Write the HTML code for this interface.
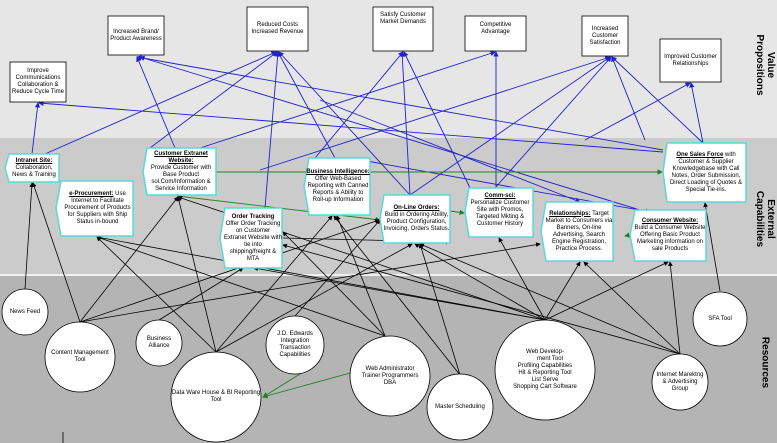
<!DOCTYPE html>
<html><head><meta charset="utf-8"><style>
body{margin:0;width:777px;height:443px;overflow:hidden;font-family:"Liberation Sans",sans-serif;position:relative;background:#b4b4b4}
.t{position:absolute;font-size:6px;line-height:7px;text-align:center;color:#000;display:flex;align-items:center;justify-content:center;flex-direction:column}
.b{font-weight:bold;text-decoration:underline}
.lab{position:absolute;font-weight:bold;font-size:10px;transform:rotate(90deg);transform-origin:center;text-align:center;line-height:11px;white-space:nowrap}
</style></head><body>
<svg width="777" height="443" style="position:absolute;left:0;top:0">
<defs>
<marker id="ab" markerWidth="6" markerHeight="6" refX="5" refY="3" orient="auto"><path d="M0,0L6,3L0,6z" fill="#2020d0"/></marker>
<marker id="ak" markerWidth="6" markerHeight="6" refX="5" refY="3" orient="auto"><path d="M0,0L6,3L0,6z" fill="#000"/></marker>
<marker id="ag" markerWidth="6" markerHeight="6" refX="5" refY="3" orient="auto"><path d="M0,0L6,3L0,6z" fill="#208020"/></marker>
</defs>
<rect x="0" y="0" width="777" height="138" fill="#e6e6e6"/>
<rect x="0" y="138" width="777" height="136" fill="#cbcbcb"/>
<rect x="0" y="274" width="777" height="2" fill="#f0f0f0"/>
<rect x="0" y="276" width="777" height="167" fill="#b4b4b4"/>
<g stroke="#2020d0" stroke-width="0.9" fill="none" marker-end="url(#ab)">
<line x1="32" y1="154" x2="38" y2="103"/>
<line x1="45" y1="154" x2="276" y2="52"/>
<line x1="175" y1="148" x2="137" y2="57"/>
<line x1="663" y1="150" x2="137" y2="57"/>
<line x1="640" y1="210" x2="140" y2="57"/>
<line x1="663" y1="152" x2="39" y2="103"/>
<line x1="150" y1="148" x2="277" y2="52"/>
<line x1="265" y1="208" x2="278" y2="52"/>
<line x1="335" y1="158" x2="278" y2="52"/>
<line x1="410" y1="195" x2="279" y2="52"/>
<line x1="315" y1="158" x2="403" y2="52"/>
<line x1="410" y1="195" x2="402" y2="52"/>
<line x1="470" y1="188" x2="404" y2="52"/>
<line x1="200" y1="148" x2="495" y2="52"/>
<line x1="496" y1="188" x2="496" y2="52"/>
<line x1="260" y1="170" x2="610" y2="57"/>
<line x1="410" y1="195" x2="610" y2="57"/>
<line x1="495" y1="188" x2="611" y2="57"/>
<line x1="645" y1="140" x2="612" y2="57"/>
<line x1="703" y1="143" x2="612" y2="57"/>
<line x1="585" y1="140" x2="690" y2="83"/>
<line x1="703" y1="143" x2="691" y2="83"/>
<line x1="350" y1="158" x2="650" y2="212"/>
<line x1="320" y1="100" x2="580" y2="202"/>
</g>
<g stroke="#208020" stroke-width="0.9" fill="none" marker-end="url(#ag)">
<line x1="216" y1="172" x2="662" y2="172"/>
<line x1="177" y1="196" x2="380" y2="220"/>
<line x1="450" y1="211" x2="464" y2="213"/>
<line x1="630" y1="235" x2="625" y2="236"/>
<line x1="350" y1="373" x2="263" y2="397"/>
<line x1="300" y1="374" x2="263" y2="397"/>
</g>
<g stroke="#000" stroke-width="0.8" fill="none" marker-end="url(#ak)">
<line x1="25" y1="289" x2="32" y2="183"/>
<line x1="80" y1="322" x2="33" y2="183"/>
<line x1="80" y1="322" x2="178" y2="197"/>
<line x1="80" y1="322" x2="379" y2="220"/>
<line x1="80" y1="322" x2="540" y2="244"/>
<line x1="159" y1="320" x2="243" y2="268"/>
<line x1="216" y1="352" x2="97" y2="237"/>
<line x1="216" y1="352" x2="178" y2="197"/>
<line x1="216" y1="352" x2="332" y2="216"/>
<line x1="216" y1="352" x2="412" y2="244"/>
<line x1="295" y1="316" x2="380" y2="220"/>
<line x1="385" y1="336" x2="283" y2="232"/>
<line x1="385" y1="336" x2="97" y2="237"/>
<line x1="385" y1="336" x2="337" y2="216"/>
<line x1="460" y1="375" x2="334" y2="216"/>
<line x1="460" y1="375" x2="420" y2="244"/>
<line x1="545" y1="320" x2="97" y2="237"/>
<line x1="545" y1="320" x2="254" y2="268"/>
<line x1="545" y1="320" x2="415" y2="244"/>
<line x1="545" y1="320" x2="499" y2="238"/>
<line x1="545" y1="320" x2="580" y2="262"/>
<line x1="545" y1="320" x2="668" y2="262"/>
<line x1="545" y1="320" x2="178" y2="197"/>
<line x1="680" y1="354" x2="283" y2="245"/>
<line x1="680" y1="354" x2="420" y2="244"/>
<line x1="680" y1="354" x2="584" y2="262"/>
<line x1="680" y1="354" x2="670" y2="262"/>
<line x1="720" y1="291" x2="705" y2="203"/>
<line x1="283" y1="238" x2="450" y2="242"/>
</g>
<line x1="63" y1="432" x2="63" y2="443" stroke="#000" stroke-width="0.8"/>
<g fill="#fff" stroke="#000" stroke-width="0.8">
<rect x="10" y="62" width="56" height="40"/>
<rect x="108" y="16" width="56" height="39"/>
<rect x="247" y="7" width="61" height="44"/>
<rect x="373" y="7" width="60" height="44"/>
<rect x="465" y="16" width="61" height="35"/>
<rect x="582" y="16" width="46" height="40"/>
<rect x="660" y="39" width="61" height="43"/>
</g>
<g fill="#fff" stroke="#5ad8d8" stroke-width="1.5">
<polygon points="9,154 59,154 59,182 9,182 5,168"/>
<polygon points="61,181 133,181 133,236 61,236 56,208"/>
<polygon points="147,148 216,148 216,195 147,195 143,172"/>
<polygon points="225,208 282,208 282,268 225,268 220,238"/>
<polygon points="309,158 370,158 370,215 309,215 304,186"/>
<polygon points="384,195 450,195 450,243 384,243 380,219"/>
<polygon points="469,188 533,188 533,237 469,237 465,212"/>
<polygon points="546,202 613,202 613,261 546,261 541,231"/>
<polygon points="635,210 706,210 706,261 635,261 630,235"/>
<polygon points="667,143 746,143 746,202 667,202 663,172"/>
</g>
<g fill="#fff" stroke="#000" stroke-width="0.8">
<circle cx="25" cy="312" r="23"/>
<circle cx="80" cy="357" r="35"/>
<circle cx="159" cy="343" r="23"/>
<circle cx="216" cy="397" r="45"/>
<circle cx="295" cy="345" r="29"/>
<circle cx="390" cy="376" r="40"/>
<circle cx="460" cy="407" r="33"/>
<circle cx="545" cy="370" r="50"/>
<circle cx="680" cy="382" r="28"/>
<circle cx="720" cy="319" r="27"/>
</g>
</svg>
<div class="t" style="left:10px;top:62px;width:56px;height:40px">Improve Communications Collaboration &amp; Reduce Cycle Time</div>
<div class="t" style="left:108px;top:16px;width:56px;height:39px">Increased Brand/ Product Awareness</div>
<div class="t" style="left:247px;top:7px;width:61px;height:44px">Reduced Costs Increased Revenue</div>
<div class="t" style="left:373px;top:7px;width:60px;height:40px;justify-content:flex-start;padding-top:5px">Satisfy Customer Market Demands</div>
<div class="t" style="left:465px;top:16px;width:61px;height:30px;justify-content:flex-start;padding-top:6px">Competitive Advantage</div>
<div class="t" style="left:582px;top:16px;width:46px;height:40px">Increased Customer Satisfaction</div>
<div class="t" style="left:660px;top:39px;width:61px;height:43px">Improved Customer Relationships</div>

<div class="t" style="left:8px;top:154px;width:52px;height:28px"><span><span class="b">Intranet Site:</span> Collaboration, News &amp; Training</span></div>
<div class="t" style="left:62px;top:181px;width:71px;height:55px"><span><span class="b">e-Procurement:</span> Use Internet to Facilitate Procurement of Products for Suppliers with Ship Status in-bound</span></div>
<div class="t" style="left:146px;top:148px;width:70px;height:47px"><span><span class="b">Customer Extranet Website:</span><br>Provide Customer with Base Product sol.Com/Information &amp; Service Information</span></div>
<div class="t" style="left:224px;top:208px;width:58px;height:60px"><span><b>Order Tracking</b><br>Offer Order Tracking on Customer Extranet Website with tie into shipping/freight &amp; MTA</span></div>
<div class="t" style="left:306px;top:158px;width:64px;height:57px"><span><span class="b">Business Intelligence:</span><br>Offer Web-Based Reporting with Canned Reports &amp; Ability to Roll-up Information</span></div>
<div class="t" style="left:383px;top:195px;width:67px;height:48px"><span><span class="b">On-Line Orders:</span><br>Build in Ordering Ability, Product Configuration, Invoicing, Orders Status.</span></div>
<div class="t" style="left:467px;top:188px;width:66px;height:45px"><span><span class="b">Comm-sci:</span><br>Personalize Customer Site with Promos, Targeted Mkting &amp; Customer History</span></div>
<div class="t" style="left:545px;top:202px;width:68px;height:59px"><span><span class="b">Relationships:</span> Target Market to Consumers via Banners, On-line Advertising, Search Engine Registration, Practice Process.</span></div>
<div class="t" style="left:634px;top:210px;width:72px;height:51px"><span><span class="b">Consumer Website:</span><br>Build a Consumer Website Offering Basic Product Marketing information on sale Products</span></div>
<div class="t" style="left:666px;top:143px;width:80px;height:59px"><span><span class="b">One Sales Force</span> with Customer &amp; Supplier Knowledgebase with Call Notes, Order Submission, Direct Loading of Quotes &amp; Special Tie-ins.</span></div>

<div class="t" style="left:2px;top:302px;width:46px;height:20px">News Feed</div>
<div class="t" style="left:45px;top:345px;width:70px;height:24px">Content Management Tool</div>
<div class="t" style="left:136px;top:333px;width:46px;height:20px">Business Alliance</div>
<div class="t" style="left:171px;top:385px;width:90px;height:24px">Data Ware House &amp; BI Reporting Tool</div>
<div class="t" style="left:266px;top:330px;width:58px;height:30px">J.D. Edwards Integration Transaction Capabilities</div>
<div class="t" style="left:356px;top:356px;width:68px;height:40px">Web Administrator Trainer Programmers DBA</div>
<div class="t" style="left:427px;top:400px;width:66px;height:14px">Master Scheduling</div>
<div class="t" style="left:495px;top:340px;width:100px;height:60px">Web Develop-<br>&nbsp;&nbsp;&nbsp;&nbsp;&nbsp;&nbsp;ment Tool<br>Profiling Capabilities<br>Hit &amp; Reporting Tool<br>List Serve<br>Shopping Cart Software</div>
<div class="t" style="left:656px;top:364px;width:48px;height:36px">Internet Marektng &amp; Advertising Group</div>
<div class="t" style="left:693px;top:312px;width:54px;height:14px">SFA Tool</div>

<div class="lab" style="left:720px;top:54px;width:90px">Value<br>Propositions</div>
<div class="lab" style="left:720px;top:208px;width:90px">External<br>Capabilities</div>
<div class="lab" style="left:720px;top:357px;width:90px">Resources</div>
</body></html>
